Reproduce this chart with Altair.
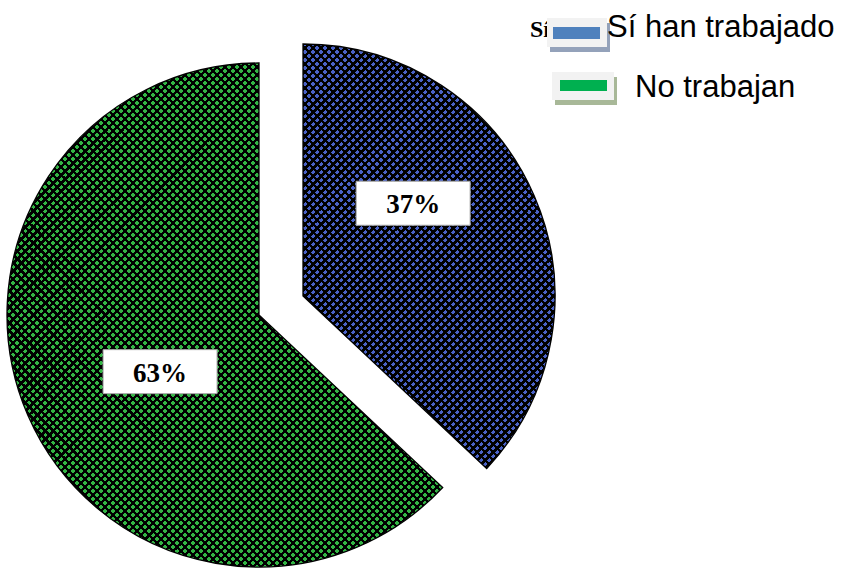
import math
import altair as alt
import pandas as pd

# ---------------- data ----------------
categories = ["Sí han trabajado", "No trabajan"]
values = [37, 63]
pct_labels = ["37%", "63%"]
legend_colors = ["#4f81bd", "#00b050"]
pattern_colors = ["#4a62c6", "#33b444"]
shadow_colors = ["#94a2ba", "#a8b898"]

# ---------------- layout ----------------
W, H = 843, 568
R = 252
CENTERS = [(303, 296), (259, 315)]
LABEL_SHIFT_DEG = [-16.7, -6.4]
LABEL_RADIUS = [144, 114]
BOX_W, BOX_H = 114, 44
HATCH = 8          # hatch repeat, in (x + y) pixel units
ON_FRAC = 0.6      # coloured share of each hatch period

# legend layout (per row)
LEG_BOX_X = [547, 552]
LEG_BOX_Y = [18, 72]
LEG_BOX_W = [60, 62]
LEG_BOX_H = [29, 28]
LEG_BAR_X = [553, 560]
LEG_BAR_Y = [27, 80]
LEG_BAR_W = [47, 47]
LEG_BAR_H = [12, 11]
LEG_TXT_X = [607, 635]
LEG_TXT_Y = [37, 97]

starts, acc = [], 0
for v in values:
    starts.append(acc)
    acc += v
ends = [s + v for s, v in zip(starts, values)]
total = float(acc)

df = pd.DataFrame({
    "cat": categories,
    "value": values,
    "label": pct_labels,
    "start": starts,
    "end": ends,
})


def arc_bbox(a0, a1, r):
    pts = [(0.0, 0.0), (r * math.sin(a0), -r * math.cos(a0)), (r * math.sin(a1), -r * math.cos(a1))]
    for k in range(5):
        ang = k * math.pi / 2
        if a0 - 1e-9 <= ang <= a1 + 1e-9:
            pts.append((r * math.sin(ang), -r * math.cos(ang)))
    xs = [p[0] for p in pts]
    ys = [p[1] for p in pts]
    return max(xs) - min(xs), max(ys) - min(ys)


def stripe_stops(n, c_on, c_off, frac):
    stops = []
    for k in range(n):
        a = k / n
        b = (k + frac) / n
        c = (k + 1) / n
        stops += [
            alt.GradientStop(offset=round(a, 7), color=c_on),
            alt.GradientStop(offset=round(b, 7), color=c_on),
            alt.GradientStop(offset=round(b, 7), color=c_off),
            alt.GradientStop(offset=round(min(c, 1.0), 7), color=c_off),
        ]
    return stops


theta_scale = alt.Scale(domain=[0, total], range=[0, 2 * math.pi])
layers = []

for i, cat in enumerate(categories):
    cx, cy = CENTERS[i]
    a0 = starts[i] / total * 2 * math.pi
    a1 = ends[i] / total * 2 * math.pi
    w, h = arc_bbox(a0, a1, R)
    n = int(math.ceil((w + h) / HATCH))
    s = HATCH * n / (w * w + h * h)

    grad_a = alt.LinearGradient(
        gradient="linear",
        x1=0, y1=0, x2=w * s, y2=h * s,
        stops=stripe_stops(n, pattern_colors[i], "#000000", ON_FRAC),
    )
    grad_b = alt.LinearGradient(
        gradient="linear",
        x1=0, y1=1, x2=w * s, y2=1 - h * s,
        stops=stripe_stops(n, "rgba(0,0,0,0)", "#000000", ON_FRAC),
    )

    base = alt.Chart(df).transform_filter(alt.datum.cat == cat)

    arc_a = base.mark_arc(x=cx, y=cy, outerRadius=R, fill=grad_a, strokeWidth=0).encode(
        theta=alt.Theta("start:Q", scale=theta_scale),
        theta2="end:Q",
    )
    arc_b = base.mark_arc(x=cx, y=cy, outerRadius=R, fill=grad_b, stroke="#000000", strokeWidth=1.3).encode(
        theta=alt.Theta("start:Q", scale=theta_scale),
        theta2="end:Q",
    )

    shift = math.radians(LABEL_SHIFT_DEG[i])
    lr = LABEL_RADIUS[i]
    lab = base.transform_calculate(
        ang=f"(datum.start + datum.end) / 2 / {total} * 2 * PI + {shift}",
    ).transform_calculate(
        lx=f"{cx} + {lr} * sin(datum.ang)",
        ly=f"{cy} - {lr} * cos(datum.ang)",
    ).transform_calculate(
        bx1=f"datum.lx - {BOX_W / 2}",
        bx2=f"datum.lx + {BOX_W / 2}",
        by1=f"datum.ly - {BOX_H / 2}",
        by2=f"datum.ly + {BOX_H / 2}",
    )
    box = lab.mark_rect(fill="white", stroke="#a6a6a6", strokeWidth=1).encode(
        x=alt.X("bx1:Q", scale=None, axis=None),
        x2="bx2:Q",
        y=alt.Y("by1:Q", scale=None, axis=None),
        y2="by2:Q",
    )
    txt = lab.mark_text(
        font="Liberation Serif", fontWeight="bold", fontSize=27,
        color="black", align="center", baseline="middle", dy=2,
    ).encode(
        x=alt.X("lx:Q", scale=None, axis=None),
        y=alt.Y("ly:Q", scale=None, axis=None),
        text="label:N",
    )
    layers += [arc_a, arc_b, box, txt]

# ---------------- manual legend ----------------
leg = pd.DataFrame({
    "cat": categories,
    "color": legend_colors,
    "shadow": shadow_colors,
    "bx1": LEG_BOX_X,
    "by1": LEG_BOX_Y,
    "bx2": [x + w for x, w in zip(LEG_BOX_X, LEG_BOX_W)],
    "by2": [y + h for y, h in zip(LEG_BOX_Y, LEG_BOX_H)],
    "sx1": [x + 3 for x in LEG_BOX_X],
    "sy1": [y + 5 for y in LEG_BOX_Y],
    "sx2": [x + w + 3 for x, w in zip(LEG_BOX_X, LEG_BOX_W)],
    "sy2": [y + h + 5 for y, h in zip(LEG_BOX_Y, LEG_BOX_H)],
    "rx1": LEG_BAR_X,
    "ry1": LEG_BAR_Y,
    "rx2": [x + w for x, w in zip(LEG_BAR_X, LEG_BAR_W)],
    "ry2": [y + h for y, h in zip(LEG_BAR_Y, LEG_BAR_H)],
    "tx": LEG_TXT_X,
    "ty": LEG_TXT_Y,
})
lbase = alt.Chart(leg)

stray = lbase.transform_filter(alt.datum.cat == categories[0]).mark_text(
    font="Liberation Serif", fontWeight="bold", fontSize=24, align="left",
    baseline="alphabetic", color="black", text="Sí", dx=-17,
).encode(
    x=alt.X("bx1:Q", scale=None, axis=None),
    y=alt.Y("ty:Q", scale=None, axis=None),
)

shadow = lbase.mark_rect().encode(
    x=alt.X("sx1:Q", scale=None, axis=None), x2="sx2:Q",
    y=alt.Y("sy1:Q", scale=None, axis=None), y2="sy2:Q",
    fill=alt.Fill("shadow:N", scale=None),
)
lbox = lbase.mark_rect(fill="#f2f2f2").encode(
    x=alt.X("bx1:Q", scale=None, axis=None), x2="bx2:Q",
    y=alt.Y("by1:Q", scale=None, axis=None), y2="by2:Q",
)
lbar = lbase.mark_rect().encode(
    x=alt.X("rx1:Q", scale=None, axis=None), x2="rx2:Q",
    y=alt.Y("ry1:Q", scale=None, axis=None), y2="ry2:Q",
    fill=alt.Fill("color:N", scale=None),
)
ltxt = lbase.mark_text(
    font="Liberation Sans", fontSize=31, align="left", baseline="alphabetic", color="black",
).encode(
    x=alt.X("tx:Q", scale=None, axis=None),
    y=alt.Y("ty:Q", scale=None, axis=None),
    text="cat:N",
)

chart = alt.layer(*layers, stray, shadow, lbox, lbar, ltxt).properties(
    width=W, height=H, padding=0, autosize=alt.AutoSizeParams(type="none"),
    background="white",
).configure_view(stroke=None)

chart.save("out.html", embed_options={"renderer": "svg", "actions": False})
